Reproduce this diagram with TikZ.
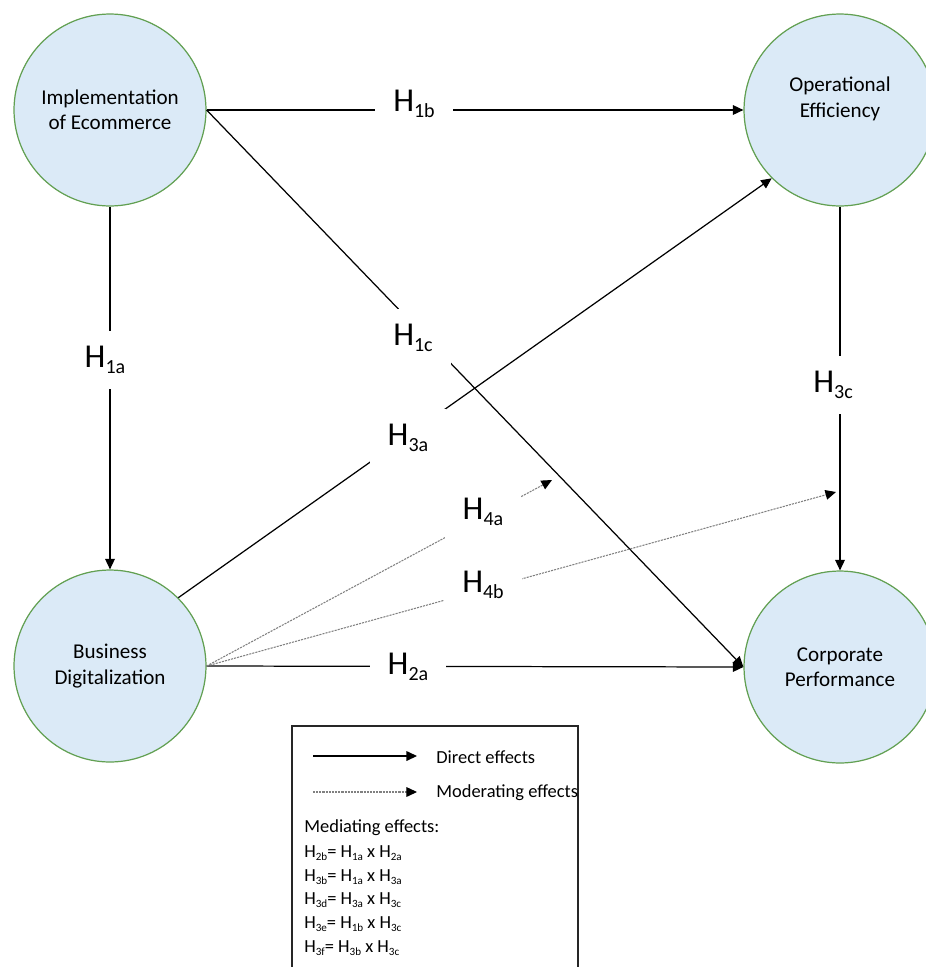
\documentclass[tikz,border=0pt]{standalone}
\usepackage{fontspec}
\setmainfont{Carlito}
\usetikzlibrary{arrows.meta}

\definecolor{nodefill}{RGB}{219,234,247}
\definecolor{nodeline}{RGB}{98,160,82}
\newcommand{\hsub}[1]{H\raisebox{-.2em}{\scalebox{.6}{#1}}}

\tikzset{
	construct/.style={circle, draw=nodeline, fill=nodefill, line width=.7pt, minimum size=3.84cm, inner sep=0pt, align=center, font=\fontsize{12}{14.5}\selectfont},
	effect/.style={line width=.7pt, -{Triangle[length=6pt,width=5.5pt]}},
	moderate/.style={gray, line width=.6pt, dash pattern=on 1.2pt off .6pt, -{Triangle[length=6pt,width=5.5pt,color=black]}},
	hyplabel/.style={fill=white, inner xsep=.36cm, inner ysep=.3cm, font=\fontsize{19}{22}\selectfont},
	legendtext/.style={anchor=west, inner sep=0pt, font=\fontsize{10.5}{12}\selectfont}
}

\begin{document}
\begin{tikzpicture}[x=.02cm, y=-.02cm]
		\useasboundingbox (0,0) rectangle (926,967);

		% constructs
		\node[construct] (impl) at (110,110) {Implementation\\of Ecommerce};
		\node[construct] (oper) at (840,110) {Operational\\Efficiency\\\mbox{}};
		\node[construct] (busi) at (110,666) {Business\\Digitalization};
		\node[construct] (corp) at (840,667) {Corporate\\Performance};

		\coordinate (m4a) at (552,480);
		\coordinate (m4b) at (836,492);

		% direct effects
		\draw[effect] (impl.south) -- (busi.north);
		\draw[effect] (impl.east) -- (oper.west);
		\draw[effect] (impl.east) -- (corp.west);
		\draw[effect] (busi.45) -- (oper.225);
		\draw[effect] (busi.east) -- (corp.west);
		\draw[effect] (oper.south) -- (corp.north);

		% moderating effects
		\draw[moderate] (busi.east) -- (m4a);
		\draw[moderate] (busi.east) -- (m4b);

		\node[hyplabel] (h1a) at (105,360) {\hsub{1a}};
		\node[hyplabel] (h1b) at (414,104) {\hsub{1b}};
		\node[hyplabel] (h1c) at (413,338) {\hsub{1c}};
		\node[hyplabel] (h3a) at (408,438) {\hsub{3a}};
		\node[hyplabel] (h4a) at (483,512) {\hsub{4a}};
		\node[hyplabel] (h4b) at (483,585) {\hsub{4b}};
		\node[hyplabel] (h2a) at (408,667) {\hsub{2a}};
		\node[hyplabel] (h3c) at (833,385) {\hsub{3c}};

		% legend
		\draw[line width=.7pt, draw=black!85] (292,1000) -- (292,726) -- (578,726) -- (578,1000);
		\coordinate (d1) at (313,756);
		\coordinate (d2) at (417,756);
		\coordinate (e1) at (313,792);
		\coordinate (e2) at (417,792);
		\draw[effect] (d1) -- (d2);
		\draw[moderate] (e1) -- (e2);
		\node[legendtext] (ldirect) at (436,757) {Direct effects};
		\node[legendtext] (lmod) at (436,793) {Moderating effects};
		\node[legendtext] (lmed) at (304,828) {Mediating effects:};
		\node[legendtext] (l1) at (304,853) {\hsub{2b}= \hsub{1a} x \hsub{2a}};
		\node[legendtext] (l2) at (304,877) {\hsub{3b}= \hsub{1a} x \hsub{3a}};
		\node[legendtext] (l3) at (304,900) {\hsub{3d}= \hsub{3a} x \hsub{3c}};
		\node[legendtext] (l4) at (304,924) {\hsub{3e}= \hsub{1b} x \hsub{3c}};
		\node[legendtext] (l5) at (304,948) {\hsub{3f}= \hsub{3b} x \hsub{3c}};

\end{tikzpicture}
\end{document}
